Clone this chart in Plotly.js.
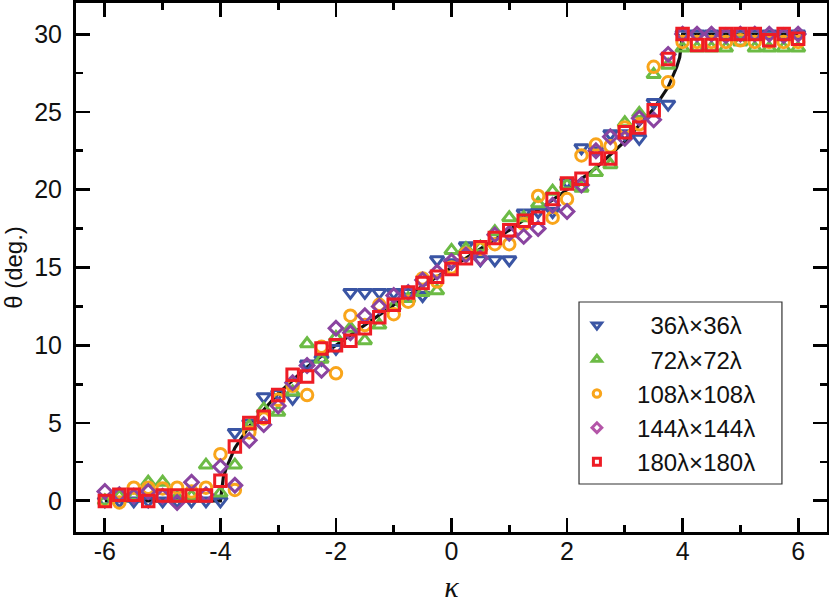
<!DOCTYPE html>
<html>
<head>
<meta charset="utf-8">
<script src="https://cdn.plot.ly/plotly-3.0.1.min.js"></script>
<style>html,body{margin:0;padding:0;background:#fff;}#chart{width:829px;height:603px;}</style>
</head>
<body>
<div id="chart"></div>
<script>
// kappa sample positions (-6 .. 6, step 0.25)
const kappa = [-6,-5.75,-5.5,-5.25,-5,-4.75,-4.5,-4.25,-4,-3.75,-3.5,-3.25,-3,-2.75,-2.5,-2.25,-2,-1.75,-1.5,-1.25,-1,-0.75,-0.5,-0.25,0,0.25,0.5,0.75,1,1.25,1.5,1.75,2,2.25,2.5,2.75,3,3.25,3.5,3.75,4,4.25,4.5,4.75,5,5.25,5.5,5.75,6];

const theta36 = [0,0,0,0,0,0,0,0,0,4.4,5.0,6.7,6.9,6.6,8.8,9.1,9.8,13.4,13.4,13.4,13.4,13.4,13.2,15.5,15.3,16.4,15.5,15.5,15.5,18.5,18.6,18.6,20.5,22.7,22.5,23.6,23.6,23.3,25.6,25.5,30,30,30,30,30,30,30,30,30];
const theta72 = [0,0.3,0.3,1.2,1.2,0.2,0.3,2.3,0.5,2.3,4.8,5.9,5.7,7.0,10.1,9.1,10.5,11.1,10.3,11.3,12.5,13.0,13.4,13.5,16.1,16.2,16.3,17.3,18.2,18.2,19.1,19.9,20.3,20.1,21.1,21.6,24.3,24.9,27.4,28.0,29.1,29.1,29.1,29.1,29.5,29.1,29.1,29.1,29.1];
const theta108 = [0,-0.1,0.85,0.85,0.8,0.85,0.6,0.85,3.0,0.7,4.4,5.3,6.5,7.4,6.8,9.9,8.2,11.9,11.3,12.6,12.0,12.8,14.3,14.1,15.0,15.9,16.2,16.5,16.5,17.8,19.6,18.2,19.4,22.2,22.9,22.8,24.0,24.2,27.9,26.9,29.5,29.5,29.5,29.5,29.6,29.5,29.5,29.5,29.5];
const theta144 = [0.6,0.4,0.3,0.6,0.3,-0.1,1.2,0.4,2.2,1.0,3.9,4.9,6.1,7.6,8.7,8.4,11.1,10.8,11.9,12.5,13.2,13.4,14.2,14.7,15.4,15.8,15.6,17.1,17.2,17.0,17.5,19.0,18.6,20.3,22.5,23.4,23.3,24.6,24.5,28.7,30,30,30,29.9,30,30,30,29.9,30];
const theta180 = [0,0.4,0.4,0,0.35,0.35,0.35,0.35,1.3,3.5,5.0,5.4,6.8,8.1,8.0,9.8,10.0,10.3,11.1,11.8,12.6,13.4,14.0,14.4,14.9,15.6,16.3,16.9,17.4,18.0,18.2,19.4,20.4,20.7,22.0,22.0,23.7,24.0,25.1,28.4,30.0,29.3,29.3,30.0,30.0,30.0,29.6,30.0,29.7];

// theory curve
const curveK = [-6,-4,-3.95,-3.9,-3.75,-3.5,-3,-2.5,-2,-1,0,1,2,2.5,3,3.5,3.75,3.9,3.95,4,6];
const curveT = [0,0,1.5,2.1,3.4,4.8,6.9,8.6,10.0,12.6,15.0,17.4,20.0,21.4,23.1,25.2,26.6,27.9,28.5,30,30];

const seriesNames = ['36λ×36λ','72λ×72λ','108λ×108λ','144λ×144λ','180λ×180λ'];
const namePad = ['\u2007\u2007\u200A\u2009','\u2007\u2007\u200A\u2009','\u2007\u200A\u2009','\u2007\u200A\u2009','\u2007\u200A\u2009'];
const xTicks = [-6,-4,-2,0,2,4,6];
const yTicks = [0,5,10,15,20,25,30];

const colors = ['#3a55a4','#6cbb45','#f9a51b','#8a44a0','#ee1c25'];
const legendColors = ['#3a55a4','#6cbb45','#f9a51b','#b455a8','#ee1c25'];
const symbols = ['triangle-down-open','triangle-up-open','circle-open','diamond-open','square-open'];
const sizes = [12,12,11.5,10.5,11.5];
const legendSizes = [8,8,7.5,7.5,7];
const ys = [theta36, theta72, theta108, theta144, theta180];

const traces = [{
  x: curveK, y: curveT, mode: 'lines', line: {color: '#111', width: 3.2},
  showlegend: false, hoverinfo: 'skip'
}];
for (let i = 0; i < 5; i++) {
  traces.push({
    x: kappa, y: ys[i], name: seriesNames[i], showlegend: false,
    mode: 'markers', type: 'scatter',
    marker: {symbol: symbols[i], size: sizes[i], color: colors[i], line: {color: colors[i], width: 3}}
  });
}
// legend entries (small symbols as in the reference legend)
for (let i = 0; i < 5; i++) {
  traces.push({
    x: [null], y: [null], name: namePad[i] + seriesNames[i], showlegend: true,
    mode: 'markers', type: 'scatter',
    marker: {symbol: symbols[i], size: legendSizes[i], color: legendColors[i], line: {color: legendColors[i], width: 3}}
  });
}

const tickFont = {family: 'Liberation Sans, Arial', size: 25, color: '#111'};
const axisCommon = {
  showline: true, linecolor: '#000', linewidth: 3, mirror: 'allticks',
  ticks: 'inside', ticklen: 14, tickwidth: 2.8, tickcolor: '#000',
  showgrid: false, zeroline: false, tickfont: tickFont
};

const layout = {
  width: 829, height: 603,
  margin: {l: 76, r: 2, t: 3, b: 71},
  paper_bgcolor: '#fff', plot_bgcolor: '#fff',
  showlegend: true,
  xaxis: Object.assign({}, axisCommon, {
    range: [-6.5, 6.5], tickvals: xTicks, ticktext: xTicks.map(String),
    minor: {ticks: 'inside', ticklen: 7, tickwidth: 2.8, tickcolor: '#000', dtick: 1, tick0: 0, showgrid: false},
    ticklabelstandoff: -5,
    title: {text: 'κ', font: {family: 'Liberation Serif, Times New Roman, serif', size: 30, style: 'italic', color: '#111'}, standoff: 14}
  }),
  yaxis: Object.assign({}, axisCommon, {
    range: [-2, 32], tickvals: yTicks, ticktext: yTicks.map(String),
    minor: {ticks: 'inside', ticklen: 7, tickwidth: 2.8, tickcolor: '#000', dtick: 2.5, tick0: 0, showgrid: false},
    ticklabelstandoff: 6,
    title: {text: 'θ (deg.)', font: {family: 'Liberation Sans, Arial', size: 24, color: '#111'}, standoff: 6}
  }),
  shapes: [{
    type: 'rect', xref: 'paper', yref: 'paper',
    x0: 0.6698, x1: 0.940, y0: 0.0907, y1: 0.4348,
    line: {color: '#333', width: 1.2}, fillcolor: 'rgba(0,0,0,0)', layer: 'above'
  }],
  legend: {
    x: 0.667, y: 0.433, xanchor: 'left', yanchor: 'top',
    bgcolor: 'rgba(0,0,0,0)', borderwidth: 0,
    font: {family: 'Liberation Sans, Arial', size: 24, color: '#111'},
    itemsizing: 'trace', tracegroupgap: 0
  }
};

Plotly.newPlot('chart', traces, layout, {displayModeBar: false, staticPlot: true});
</script>
</body>
</html>
